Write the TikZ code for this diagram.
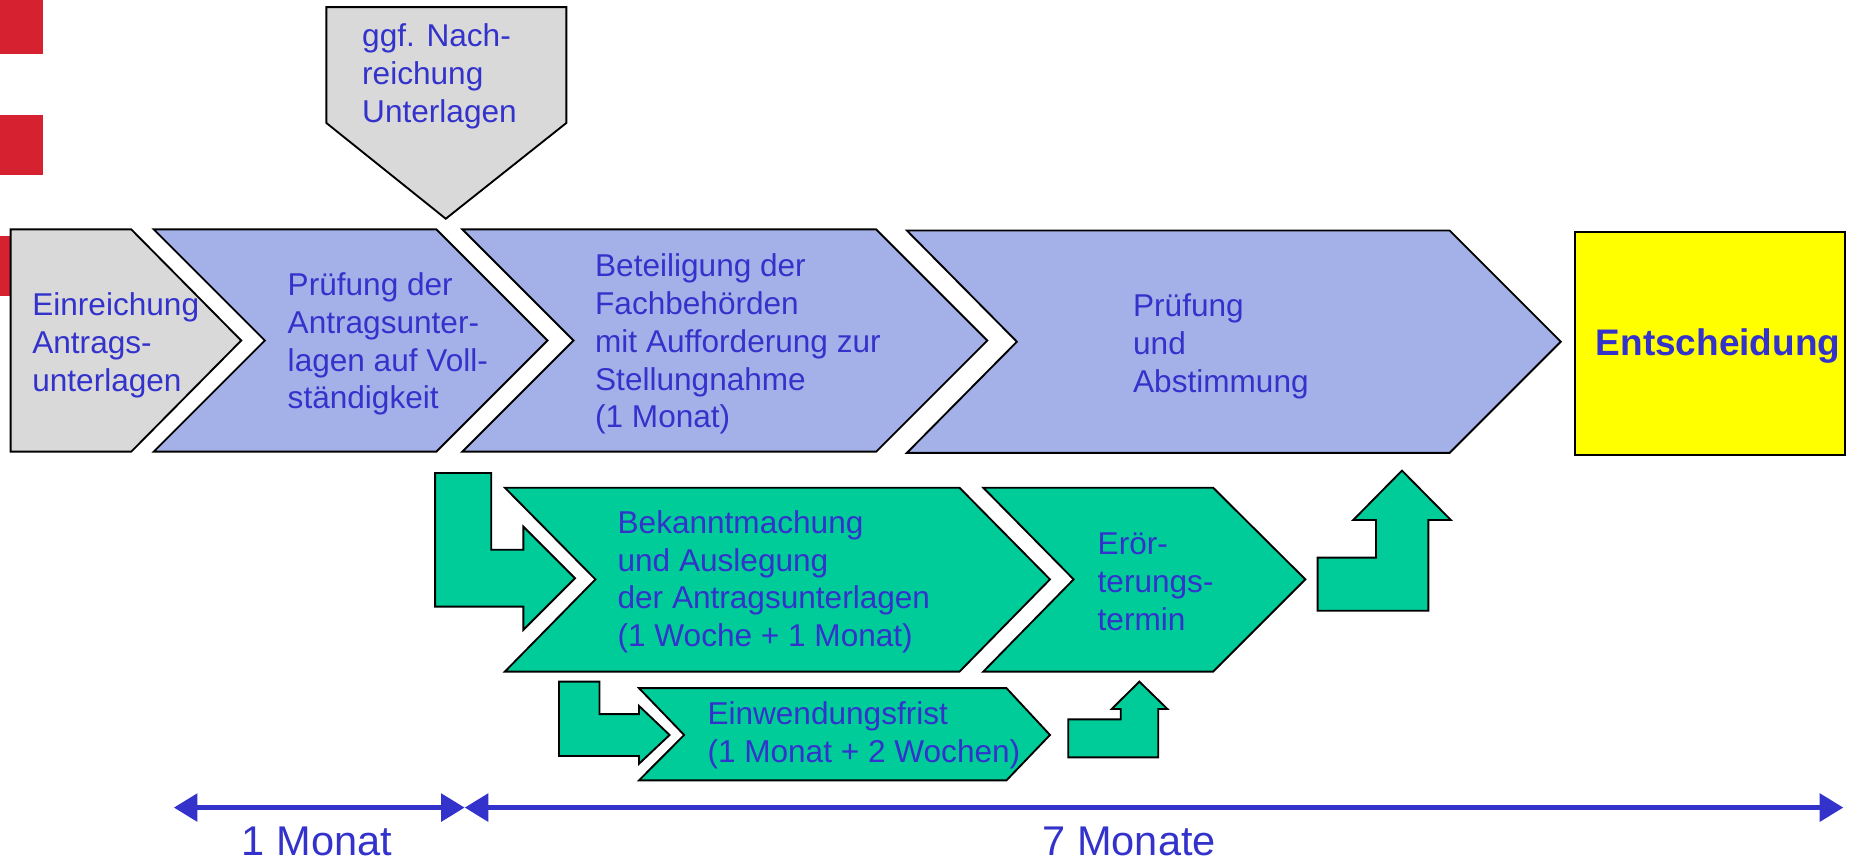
\documentclass[tikz,border=0pt]{standalone}
\usepackage{fontspec}
\setmainfont{Liberation Sans}
\usetikzlibrary{arrows.meta}
\definecolor{txtblue}{RGB}{51,51,204}
\definecolor{chevblue}{RGB}{164,177,232}
\definecolor{chevgreen}{RGB}{0,204,153}
\definecolor{chevgrey}{RGB}{217,217,217}
\definecolor{markred}{RGB}{213,33,48}
\definecolor{decyellow}{RGB}{255,255,0}
\tikzset{
  shp/.style={draw=black, line width=0.9pt, line join=miter},
  greyshp/.style={shp, fill=chevgrey},
  blueshp/.style={shp, fill=chevblue},
  greenshp/.style={shp, fill=chevgreen},
  lbl/.style={text=txtblue, font=\fontsize{15.2}{18.2}\selectfont, align=left, inner sep=0pt, anchor=west},
  boldlbl/.style={text=txtblue, font=\fontsize{17.8}{21}\selectfont\bfseries, inner sep=0pt},
  timelbl/.style={text=txtblue, font=\fontsize{20}{24}\selectfont, inner sep=0pt},
  timeline/.style={draw=txtblue, line width=0.09cm, {Triangle[length=0.4cm,width=0.46cm]}-{Triangle[length=0.4cm,width=0.46cm]}}
}
\begin{document}
\begin{tikzpicture}[x=0.02cm, y=-0.02cm]
\useasboundingbox (0,0) rectangle (1568,732);
% red markers
\fill[markred] (0,0) rectangle (36,46);
\fill[markred] (0,97) rectangle (36,148);
\fill[markred] (0,200) rectangle (36,250);
% top grey pentagon
\draw[greyshp] (276,6) -- (479,6) -- (479,104) -- (377,185) -- (276,104) -- cycle;
% row 1
\draw[greyshp] (9,194) -- (111,194) -- (204,288) -- (111,382) -- (9,382) -- cycle;
\draw[blueshp] (130,194) -- (369,194) -- (463,288) -- (369,382) -- (130,382) -- (224,288) -- cycle;
\draw[blueshp] (391,194) -- (741,194) -- (835,288) -- (741,382) -- (391,382) -- (485,288) -- cycle;
\draw[blueshp] (767,195) -- (1226,195) -- (1320,289) -- (1226,383) -- (767,383) -- (860,289) -- cycle;
\draw[shp, fill=decyellow] (1332,196) rectangle (1560,385);
% row 2
\draw[greenshp] (368,400) -- (415.5,400) -- (415.5,465) -- (442.6,465) -- (442.6,445.4) -- (486.3,489) -- (442.6,532.8) -- (442.6,513) -- (368,513) -- cycle;
\draw[greenshp] (427,412.5) -- (811.5,412.5) -- (888,490) -- (811.5,568) -- (427,568) -- (503.6,490) -- cycle;
\draw[greenshp] (831.6,412.5) -- (1026,412.5) -- (1104,490) -- (1026,568) -- (831.6,568) -- (908,490) -- cycle;
\draw[greenshp] (1114.4,516.5) -- (1114.4,471.6) -- (1163.7,471.6) -- (1163.7,439.8) -- (1144.5,439.8) -- (1185.7,398) -- (1227,439.8) -- (1208,439.8) -- (1208,516.5) -- cycle;
% row 3
\draw[greenshp] (472.8,576.5) -- (507,576.5) -- (507,604) -- (540.4,604) -- (540.4,597) -- (566.3,621.6) -- (540.4,646) -- (540.4,639.4) -- (472.8,639.4) -- cycle;
\draw[greenshp] (540.4,582) -- (851.2,582) -- (888,621.6) -- (851.2,660) -- (540.4,660) -- (578.6,621.6) -- cycle;
\draw[greenshp] (903.5,640.5) -- (903.5,608.4) -- (947.8,608.4) -- (947.8,599.6) -- (940.2,599.6) -- (963.6,576.5) -- (987.3,599.6) -- (979.6,599.6) -- (979.6,640.5) -- cycle;
% texts
\node[lbl] (nach) at (306,64.5) {ggf. Nach-\\reichung\\Unterlagen};
\node[lbl] (einr) at (27,292) {Einreichung\\Antrags-\\unterlagen};
\node[lbl] (pruef1) at (243,291) {Prüfung der\\Antragsunter-\\lagen auf Voll-\\ständigkeit};
\node[lbl] (beteil) at (503,291) {Beteiligung der\\Fachbehörden\\mit Aufforderung zur\\Stellungnahme\\(1 Monat)};
\node[lbl] (pruef2) at (958,293) {Prüfung\\und\\Abstimmung};
\node[boldlbl] (entsch) at (1453,293) {Entscheidung};
\node[lbl] (bekannt) at (522,492) {Bekanntmachung\\und Auslegung\\der Antragsunterlagen\\(1 Woche + 1 Monat)};
\node[lbl] (eroer) at (928,492) {Erör-\\terungs-\\termin};
\node[lbl] (einw) at (598,622) {Einwendungsfrist\\(1 Monat + 2 Wochen)};
% timeline
\coordinate (t1) at (147,683);
\coordinate (t2) at (393,683);
\coordinate (t3) at (1559,683);
\draw[timeline] (t1) -- (t2);
\draw[timeline] (t2) -- (t3);
\node[timelbl] (m1) at (268,712) {1 Monat};
\node[timelbl] (m7) at (955,712) {7 Monate};
\end{tikzpicture}
\end{document}
